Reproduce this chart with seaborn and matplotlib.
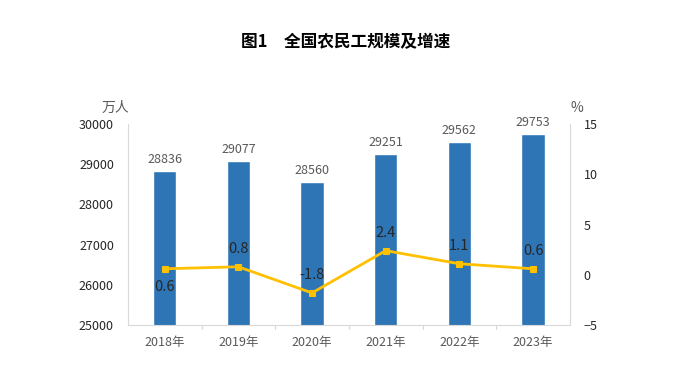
import matplotlib
matplotlib.use("Agg")
import matplotlib.pyplot as plt
import seaborn as sns
import pandas as pd

years = ["2018年", "2019年", "2020年", "2021年", "2022年", "2023年"]
workers = [28836, 29077, 28560, 29251, 29562, 29753]
growth = [0.6, 0.8, -1.8, 2.4, 1.1, 0.6]
# label above (+1) or below (-1) the line point
growth_label_side = [-1, 1, 1, 1, 1, 1]

sns.set_style("white")
plt.rcParams["font.family"] = ["Noto Sans CJK SC", "DejaVu Sans"]

df = pd.DataFrame({"year": years, "workers": workers, "growth": growth})

fig = plt.figure(figsize=(6.8, 3.72), dpi=100)
ax = fig.add_axes([0.188, 0.126, 0.65, 0.541])

bar_color = "#2E75B6"
line_color = "#FFC000"
grid_gray = "#D9D9D9"
text_gray = "#595959"

sns.barplot(data=df, x="year", y="workers", color=bar_color, width=0.32,
            saturation=1, ax=ax)
ax.set_ylim(25000, 30000)
ax.set_yticks(range(25000, 30001, 1000))
ax.set_xlim(-0.5, 5.5)
ax.set_xlabel("")
ax.set_ylabel("")

for i, v in enumerate(workers):
    ax.text(i, v + 120, str(v), ha="center", va="bottom", fontsize=9, color=text_gray)

ax2 = ax.twinx()
sns.lineplot(data=df, x="year", y="growth", color=line_color, marker="s",
             markersize=5, markeredgecolor=line_color, linewidth=2, ax=ax2)
ax2.set_ylim(-5, 15)
ax2.set_yticks(range(-5, 16, 5))
ax2.set_ylabel("")

for i, (v, side) in enumerate(zip(growth, growth_label_side)):
    ax2.text(i, v + side * 1.8, f"{v:g}", ha="center", va="center",
             fontsize=10.5, color="#262626")

for a in (ax, ax2):
    for s in a.spines.values():
        s.set_visible(False)
    a.tick_params(axis="y", labelsize=9, colors=text_gray, length=0, pad=10)
    a.tick_params(axis="y", labelcolor="#262626")

ax.spines["left"].set_visible(True)
ax.spines["left"].set_color(grid_gray)
ax.spines["bottom"].set_visible(True)
ax.spines["bottom"].set_color(grid_gray)
ax2.spines["right"].set_visible(True)
ax2.spines["right"].set_color(grid_gray)

ax.tick_params(axis="x", labelsize=9, colors=text_gray, length=0, pad=8)
ax.tick_params(axis="x", labelcolor=text_gray)
ax.set_xticks(range(len(years)))
ax.set_xticklabels(years)
for b in [i + 0.5 for i in range(len(years) - 1)]:
    ax.plot([b, b], [0, -0.02], transform=ax.get_xaxis_transform(), color=grid_gray,
            lw=0.8, clip_on=False)

fig.text(0.508, 0.887, "图1　全国农民工规模及增速", ha="center", va="center",
         fontsize=12, fontweight="bold", color="black")
fig.text(0.17, 0.71, "万人", ha="center", va="center", fontsize=10, color=text_gray)
fig.text(0.848, 0.71, "%", ha="center", va="center", fontsize=10, color=text_gray)

fig.savefig("out.png", dpi=100)
